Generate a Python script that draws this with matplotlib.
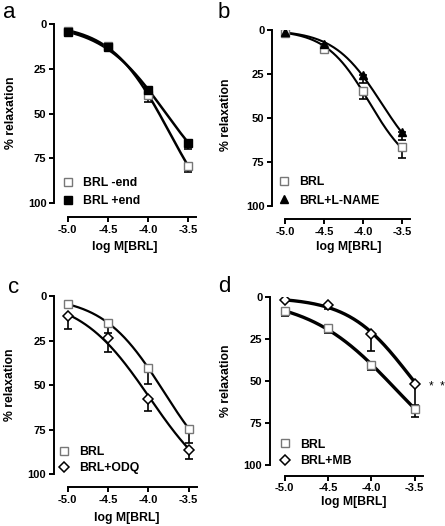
import numpy as np
import matplotlib
matplotlib.use("Agg")
import matplotlib.pyplot as plt

plt.rcParams['font.family'] = ['Liberation Sans', 'DejaVu Sans']
plt.rcParams['font.weight'] = 'bold'
plt.rcParams['axes.unicode_minus'] = False

# ---- data ----
log_brl = [-5.0, -4.5, -4.0, -3.5]
xtick_labels = ['-5.0', '-4.5', '-4.0', '-3.5']
ytick_values = [0, 25, 50, 75, 100]

# panel a
a_minus_end = [3.9, 12.4, 39.8, 79.4]
a_minus_end_err = [1.0, 1.0, 3.7, 3.0]
a_plus_end = [4.8, 13.0, 37.0, 66.4]
a_plus_end_err = [0.8, 1.0, 1.2, 3.6]

# panel b
b_brl = [1.5, 11.0, 34.7, 66.8]
b_brl_err = [1.0, 1.0, 4.7, 6.2]
b_lname = [1.3, 8.2, 25.6, 57.9]
b_lname_err = [0.5, 0.8, 4.4, 4.7]

# panel c
c_brl = [4.5, 14.8, 40.5, 74.5]
c_brl_err = [1.0, 6.0, 8.9, 8.0]
c_odq = [11.1, 23.3, 57.8, 86.3]
c_odq_err = [7.5, 7.9, 6.6, 5.1]

# panel d
d_brl = [8.3, 18.5, 40.3, 66.5]
d_brl_err = [2.7, 2.9, 3.0, 4.5]
d_mb = [1.8, 4.6, 22.0, 51.6]
d_mb_err = [0.5, 2.6, 9.8, 12.4]

W, H = 445, 526
XLIM = (-5.17, -3.40)

fig = plt.figure(figsize=(W / 100, H / 100), dpi=100)


def make_axes(left, right, top, bottom):
    return fig.add_axes([left / W, 1 - bottom / H, (right - left) / W, (bottom - top) / H])


OPEN_SQ = dict(marker='s', mfc='white', mec='#777777', ms=6, mew=1.0)
FILL_SQ = dict(marker='s', mfc='black', mec='black', ms=6, mew=1.0)
TRI = dict(marker='^', mfc='black', mec='black', ms=6, mew=1.0)
DIAM = dict(marker='D', mfc='white', mec='black', ms=4.8, mew=1.1)


def fit_logistic(x, y):
    # sigmoid fit (bottom 0, top searched), like a dose-response fit
    best = None
    for top in np.linspace(max(y) + 2, 250, 500):
        lg = np.log(y / (top - y))
        k, b = np.polyfit(x, lg, 1)
        pred = top / (1 + np.exp(-(k * x + b)))
        sse = np.sum((pred - y) ** 2)
        if best is None or sse < best[0]:
            best = (sse, top, k, b)
    return best[1:]


def draw_series(ax, y, err, style, label, lw):
    x = np.array(log_brl)
    y = np.array(y)
    top, k, b = fit_logistic(x, y)
    xs = np.linspace(-5.0, -3.5, 150)
    ax.plot(xs, top / (1 + np.exp(-(k * xs + b))), color='black', lw=lw, zorder=2)
    ax.errorbar(x, y, yerr=[np.zeros(len(err)), err], fmt='none', ecolor='black',
                elinewidth=1.2, capsize=3, capthick=1.2, zorder=3)
    ax.plot(x, y, ls='none', label=label, zorder=4, **style)


def style_axes(ax, outward):
    ax.set_xlim(*XLIM)
    ax.set_ylim(100, 0)
    for s in ['top', 'right']:
        ax.spines[s].set_visible(False)
    ax.spines['left'].set_linewidth(1.4)
    ax.spines['bottom'].set_linewidth(1.4)
    ax.spines['left'].set_bounds(0, 100)
    ax.spines['bottom'].set_bounds(-5.0, -3.4)
    ax.spines['bottom'].set_position(('outward', outward))
    ax.set_xticks(log_brl)
    ax.set_xticklabels(xtick_labels)
    ax.set_yticks(ytick_values)
    ax.tick_params(width=1.4, length=3.5, labelsize=8, pad=2)
    for t in ax.get_xticklabels() + ax.get_yticklabels():
        t.set_fontweight('bold')
    ax.set_xlabel('log M[BRL]', fontsize=8.8, fontweight='bold')
    ax.set_ylabel('% relaxation', fontsize=8.8, fontweight='bold')
    ax.patch.set_alpha(0)


def place_labels(ax, left, right, top, bottom, xlab_px, ylab_px):
    w = right - left
    h = bottom - top
    ax.xaxis.set_label_coords((xlab_px[0] - left) / w, (bottom - xlab_px[1]) / h)
    ax.yaxis.set_label_coords((ylab_px[0] - left) / w, (bottom - ylab_px[1]) / h)
    ax.xaxis.label.set_va('center')
    ax.yaxis.label.set_va('center')


def add_legend(ax, left, right, top, bottom, anchor_px, spacing):
    w = right - left
    h = bottom - top
    ax.legend(loc='upper left', frameon=False, handlelength=0.9,
              handletextpad=0.8, labelspacing=spacing, borderaxespad=0, borderpad=0,
              prop={'weight': 'bold', 'size': 8.8},
              bbox_to_anchor=((anchor_px[0] - left) / w, (bottom - anchor_px[1]) / h))


# panel a
box = (54.1, 196.0, 23.7, 203.3)
ax = make_axes(*box)
draw_series(ax, a_minus_end, a_minus_end_err, OPEN_SQ, 'BRL -end', 1.8)
draw_series(ax, a_plus_end, a_plus_end_err, FILL_SQ, 'BRL +end', 1.8)
style_axes(ax, 10)
place_labels(ax, *box, (125, 246.7), (10.7, 113))
add_legend(ax, *box, (62, 177), 0.5)

# panel b
box = (272.1, 409.8, 30.0, 205.7)
ax = make_axes(*box)
draw_series(ax, b_brl, b_brl_err, OPEN_SQ, 'BRL', 1.5)
draw_series(ax, b_lname, b_lname_err, TRI, 'BRL+L-NAME', 1.5)
style_axes(ax, 9.5)
place_labels(ax, *box, (348.7, 246.7), (226, 115))
add_legend(ax, *box, (278, 176), 0.55)

# panel c
box = (54.0, 196.8, 296.3, 474.0)
ax = make_axes(*box)
draw_series(ax, c_brl, c_brl_err, OPEN_SQ, 'BRL', 1.6)
draw_series(ax, c_odq, c_odq_err, DIAM, 'BRL+ODQ', 1.6)
style_axes(ax, 9.5)
place_labels(ax, *box, (127, 518), (10, 385))
add_legend(ax, *box, (58.5, 446), 0.35)

# panel d
box = (270.0, 423.4, 297.3, 465.3)
ax = make_axes(*box)
draw_series(ax, d_brl, d_brl_err, OPEN_SQ, 'BRL', 2.4)
draw_series(ax, d_mb, d_mb_err, DIAM, 'BRL+MB', 2.4)
style_axes(ax, 7.5)
place_labels(ax, *box, (353.7, 502.3), (226, 381))
add_legend(ax, *box, (279, 438.5), 0.4)
ax.annotate('*  *', xy=(log_brl[-1], d_mb[-1]), xytext=(10.5, -2.5), textcoords='offset points',
            ha='left', va='center', fontsize=8.5, fontweight='normal')

# panel letters
for letter, (px, py) in zip('abcd', [(3, 18), (218, 18), (8, 293), (218, 292)]):
    fig.text(px / W, 1 - py / H, letter, fontsize=16, fontweight='normal', va='baseline')

fig.savefig('out.png', dpi=100)
